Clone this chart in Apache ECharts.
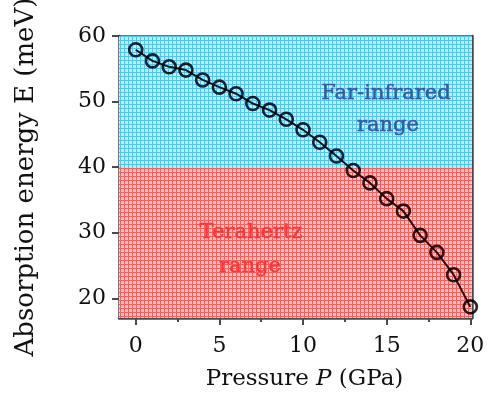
<!DOCTYPE html>
<html>
<head>
<meta charset="utf-8">
<script src="https://cdn.jsdelivr.net/npm/echarts@6/dist/echarts.min.js"></script>
<style>
  html, body { margin: 0; padding: 0; background: #fff; }
  #main { width: 488px; height: 401px; }
</style>
</head>
<body>
<div id="main"></div>
<script>
// pressure (GPa) and absorption energy (meV)
var pressure = [0, 1, 2, 3, 4, 5, 6, 7, 8, 9, 10, 11, 12, 13, 14, 15, 16, 17, 18, 19, 20];
var energy = [57.9, 56.2, 55.3, 54.8, 53.3, 52.2, 51.2, 49.7, 48.7, 47.3, 45.7,
              43.8, 41.7, 39.5, 37.6, 35.2, 33.3, 29.6, 27.0, 23.6, 18.7];
var xTicks = [0, 5, 10, 15, 20];
var xMinor = [2.5, 7.5, 12.5, 17.5];
var yTicks = [20, 30, 40, 50, 60];
var yMinor = [25, 35, 45, 55];
var farIR = [40, 60];      // far-infrared band
var thz = [17, 40];        // terahertz band

// grid-like hatch fill
function hatch(bg, line) {
  var c = document.createElement('canvas');
  c.width = 4; c.height = 4;
  var g = c.getContext('2d');
  g.fillStyle = bg; g.fillRect(0, 0, 4, 4);
  g.fillStyle = line;
  g.fillRect(0, 0, 4, 1);
  g.fillRect(0, 0, 1, 4);
  return { image: c, repeat: 'repeat' };
}

var serif = '"DejaVu Serif", "Liberation Serif", serif';
var axisCol = '#4a4a4a';

var chart = echarts.init(document.getElementById('main'));

var points = pressure.map(function (p, i) { return [p, energy[i]]; });

function note(text, x, y, color) {
  return {
    type: 'text', x: x, y: y, z: 10,
    style: {
      text: text, font: '21px ' + serif, fill: color,
      stroke: color, lineWidth: 0.5,
      align: 'center', verticalAlign: 'middle'
    }
  };
}

var option = {
  animation: false,
  grid: { left: 119, right: 16, top: 36, bottom: 83, outerBoundsMode: 'none' },
  xAxis: [{
    type: 'value', min: -1, max: 20.1,
    name: '{n|Pressure }{i|P}{n| (GPa)}',
    nameLocation: 'middle', nameGap: 50,
    nameTextStyle: {
      padding: [0, 0, 0, 18],
      rich: {
        n: { fontFamily: serif, fontSize: 23, color: '#111' },
        i: { fontFamily: serif, fontSize: 23, color: '#111', fontStyle: 'italic' }
      }
    },
    axisLine: { onZero: false, lineStyle: { color: axisCol, width: 2.5 } },
    axisTick: { customValues: xTicks, length: 7, lineStyle: { color: axisCol, width: 2 } },
    axisLabel: { customValues: xTicks, margin: 17, fontFamily: serif, fontSize: 22, color: '#111' },
    splitLine: { show: false }
  }, {
    type: 'value', min: -1, max: 20.1, position: 'bottom',
    axisLine: { show: false },
    axisTick: { customValues: xMinor, length: 4, lineStyle: { color: axisCol, width: 2 } },
    axisLabel: { show: false }, splitLine: { show: false }
  }, {
    type: 'value', min: -1, max: 20.1, position: 'top',
    axisLine: { onZero: false, lineStyle: { color: axisCol, width: 2.5 } },
    axisTick: { show: false }, axisLabel: { show: false }, splitLine: { show: false }
  }],
  yAxis: [{
    type: 'value', min: 17, max: 60,
    name: 'Absorption energy E (meV)',
    nameLocation: 'middle', nameGap: 80, nameRotate: 90,
    nameTextStyle: { fontFamily: serif, fontSize: 26, color: '#111', padding: [0, 0, 0, 0] },
    axisLine: { onZero: false, lineStyle: { color: axisCol, width: 2.5 } },
    axisTick: { customValues: yTicks, length: 7, lineStyle: { color: axisCol, width: 2 } },
    axisLabel: { customValues: yTicks, margin: 13, fontFamily: serif, fontSize: 22, color: '#111' },
    splitLine: { show: false }
  }, {
    type: 'value', min: 17, max: 60, position: 'left',
    axisLine: { show: false },
    axisTick: { customValues: yMinor, length: 4, lineStyle: { color: axisCol, width: 2 } },
    axisLabel: { show: false }, splitLine: { show: false }
  }, {
    type: 'value', min: 17, max: 60, position: 'right',
    axisLine: { onZero: false, lineStyle: { color: axisCol, width: 2.5 } },
    axisTick: { show: false }, axisLabel: { show: false }, splitLine: { show: false }
  }],
  series: [{
    type: 'line',
    data: points,
    symbol: 'circle',
    symbolSize: 13,
    showAllSymbol: true,
    lineStyle: { color: 'rgba(0,0,0,0.9)', width: 2 },
    itemStyle: { color: 'rgba(0,0,0,0)', borderColor: 'rgba(0,0,0,0.85)', borderWidth: 2.6 },
    z: 5,
    markArea: {
      silent: true,
      data: [
        [{ yAxis: farIR[0], itemStyle: { color: hatch('#c2ebfb', '#4fc6f2') } }, { yAxis: farIR[1] }],
        [{ yAxis: thz[0], itemStyle: { color: hatch('#ffc6c6', '#ff5c5c') } }, { yAxis: thz[1] }]
      ]
    }
  }],
  graphic: [
    note('Far-infrared', 386, 94, '#3b5a9c'),
    note('range', 388, 126, '#3b5a9c'),
    note('Terahertz', 251, 233, '#ff3535'),
    note('range', 250, 267, '#ff3535')
  ]
};

chart.setOption(option);
</script>
</body>
</html>
